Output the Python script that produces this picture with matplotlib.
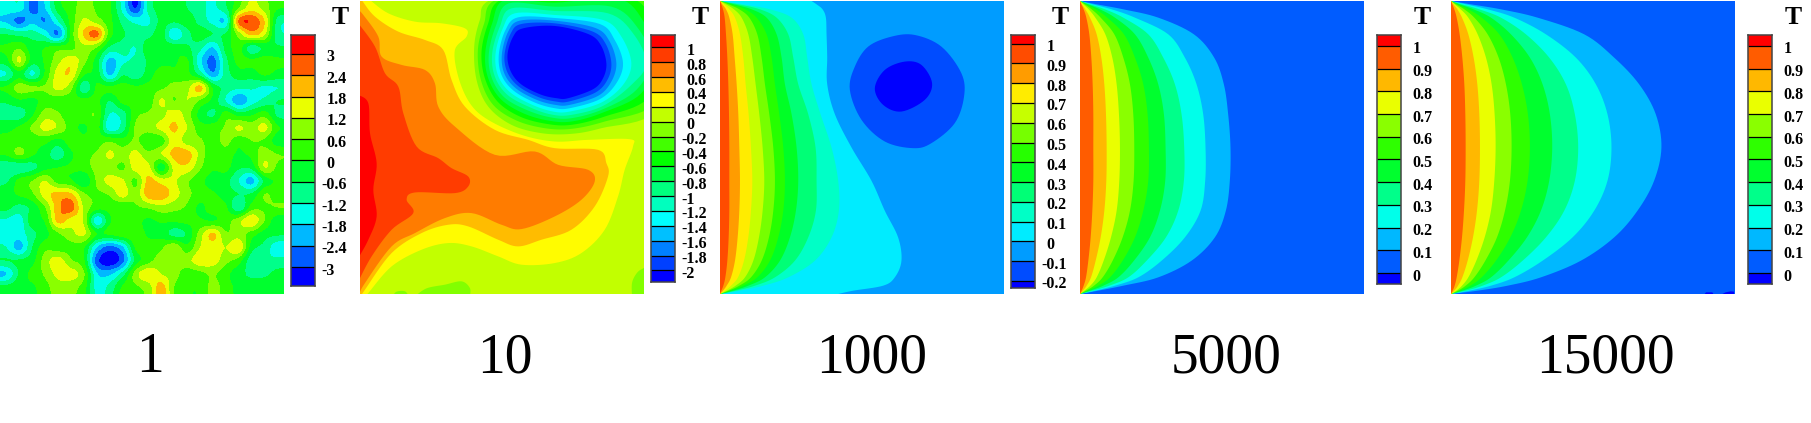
import numpy as np
import matplotlib
matplotlib.use("Agg")
import matplotlib.pyplot as plt
from matplotlib.colors import BoundaryNorm, LinearSegmentedColormap, ListedColormap

plt.rcParams["font.family"] = ["Liberation Serif", "DejaVu Serif"]

W, H = 1811, 423

titles = ["1", "10", "1000", "5000", "15000"]
title_x = [150, 505, 872, 1226, 1605]

levels_1 = [-3, -2.4, -1.8, -1.2, -0.6, 0, 0.6, 1.2, 1.8, 2.4, 3]
levels_2 = [-2, -1.8, -1.6, -1.4, -1.2, -1, -0.8, -0.6, -0.4, -0.2, 0, 0.2, 0.4, 0.6, 0.8, 1]
levels_3 = [-0.2, -0.1, 0, 0.1, 0.2, 0.3, 0.4, 0.5, 0.6, 0.7, 0.8, 0.9, 1]
levels_4 = [0, 0.1, 0.2, 0.3, 0.4, 0.5, 0.6, 0.7, 0.8, 0.9, 1]

# T, 22 x 22 cells, top row first
field_1 = [
    [-1.5, -1.4, -2.6, -1.8, -0.3, 0.3, 0.9, 0.5, 0.1, -1.4, -3, -1.0, -0.3, -0.3, -0.6, -1.0, -1.3, -0.7, 0.6, 1.5, 0.9, 0.1],
    [-1.9, -2.6, -2, -2.4, -1.2, 0.2, 1.3, 0.9, 0.2, -0.8, -1.4, -1.3, -0.4, -0.5, -0.3, -0.8, -1.4, -1.6, 2.5, 2.9, 1.8, -0.8],
    [-0.6, -0.8, -0.9, -1.4, -2.4, 0.2, 1.9, 2.6, 0.3, -0.5, -0.8, -0.8, -0.3, -1.7, -0.8, -0.3, -0.6, -0.5, 0.9, 2.0, 1.3, -0.9],
    [0.1, 0.5, -0.3, 0.0, 0.3, 0.4, 1.0, 0.6, -0.7, -0.9, -1.2, -0.2, -0.3, -0.2, -0.5, -1.0, -1.8, -0.4, 0.2, -0.9, -0.4, -0.5],
    [-0.2, 1.3, -0.3, 0.1, 1.0, 1.6, 0.8, -0.3, -2, -1.3, -1.1, -0.5, -0.2, -0.1, 0.1, -1.6, -2.6, -0.8, 0.2, 0.1, 0.3, 0.1],
    [-1.2, -0.2, -1.3, 0.1, 1.5, 1.7, 0.1, -0.2, -1.9, -0.7, -1, -0.3, 0.3, 0.2, 0.2, -0.8, -2.2, -0.9, -0.3, -0.3, 0.1, -0.2],
    [0.1, 0.9, 0.7, 0.7, 1.4, 0.8, -1.0, 0.1, 0.1, 0.3, 0.1, 0.2, 0.5, 0.8, 1.0, 2, -0.1, -0.8, -1.1, -1.1, -1.3, -1.2],
    [-0.5, -0.1, -0.2, 0.3, 0.3, 0.2, 0.2, 0.2, -0.6, 0.2, 0.1, 0.2, 1.3, 0.6, 1.2, 0.5, -0.2, -1.2, -2.2, -1.5, -1.0, -0.6],
    [-0.8, -0.9, -0.1, 0.9, 0.7, 0.1, 0.4, 0.5, -1.2, -0.9, 0.4, 0.7, 1, 1.5, 0.9, -0.2, -0.7, 0.3, -0.3, -0.1, 0.3, -0.7],
    [-0.2, 0.1, 0.7, 1.4, 1.1, 0.3, -0.1, 0.3, -1.6, -0.9, 0.7, 0.9, 1.4, 1.9, 1.2, 0.3, 0.3, 0.7, 1.3, 0.9, 1.4, 0.1],
    [0.2, 0.3, 0.2, 0.2, -0.2, 0.3, 0.2, 0.3, 0.5, 0.2, 0.7, 0.1, 0.3, 1.6, 0.9, 0.7, 0.3, 0.8, 0.2, 0.6, 0.5, -0.3],
    [0.1, 0.7, 0.1, -0.3, -0.9, -0.1, 0.4, 0.7, 1.3, 0.9, 1.4, 0.8, 1.2, 2.0, 2.1, 1, 0.1, 0.3, -0.1, 0.2, 0.9, 0.6],
    [-1.1, -1.1, -0.8, -0.2, 0, 0.1, 0.3, 0.8, 0.9, 0.5, 1.5, 1.4, -0.3, 1.4, 1.6, 0.7, 0.1, 0.2, -0.5, -0.4, 1.2, 0.5],
    [-0.7, 0.2, 0.6, 1.2, 0.3, 0.1, -0.5, 0.7, 1.4, 1.3, 0.5, 2.0, 1.5, 1.3, 0.7, 0.2, -0.3, -0.4, -1.2, -2.0, -0.4, 0.1],
    [-0.2, 0.1, 0.5, 1.5, 2.0, 1.9, 0.7, 0.5, 0.7, 1.5, 0.8, 2.2, 2.2, 1.5, 0.8, 0.3, 0.1, -0.3, -0.6, -0.5, 0.6, 0.3],
    [-0.4, -0.8, -0.4, 0.6, 2.2, 2.7, 1.1, 0.3, 0.2, 0.1, 0.5, 0.7, 1, 0.8, 0.5, -0.1, 0.3, 0.1, -1.1, 0.3, 0.5, 0.6],
    [-1.3, -1.5, -0.2, 0.1, 2, 1.5, 1.1, -1.6, -0.1, 0.2, 0.2, -0.1, 0.1, 0.1, 0.2, 0.1, 0, 0.3, 1.0, 1.7, 0.6, -0.4],
    [-1.4, -1.5, -0.8, -0.2, 0.5, 1.0, 1.3, 0, 0.1, 0.4, 0.4, -0.1, -0.2, -0.8, -0.5, 0.9, 1.9, 0.7, 0.9, 0.3, -0.3, -0.5],
    [-1.2, -2, -0.6, 0.4, 0.3, 0.4, 0.1, -1.8, -2.6, -1.9, 0.1, 0.3, 0.5, 1.1, 0.2, 1.2, 1.5, 1.2, 1.7, -0.3, -0.8, -1.6],
    [-0.6, -0.5, -0.2, 0.9, 1.5, 0.7, 0.1, -2.7, -3.4, -2.6, -0.4, 0.4, 0.9, 0.8, 1.0, 1.6, 1.5, 0.8, 0.3, -1, -1.1, -1],
    [-1.8, -0.5, 0.2, 0.7, 1.4, 1.5, 0.7, -1.7, -1.9, -0.9, 0.9, 1.7, 1.2, 0.9, 0.2, 0.4, 0.7, 0.2, -0.4, -0.7, -0.7, -0.4],
    [-0.4, -0.1, -0.1, 0.4, 0.9, 0.8, 0.3, -1.4, -1, 0.1, 0.5, 0.9, 2.1, 0.6, 0.1, 0.1, 0.8, 0.3, -0.2, -0.4, -0.3, -0.3],
]

# second panel: closed rings round the cold spot, (x, y) in reference units
rings_2 = {
    0: [(405, 0), (375, 60), (358, 140), (365, 240), (400, 320), (470, 375), (560, 400), (650, 402), (740, 385), (900, 335), (920, 150), (900, -40), (600, -60)],
    -0.2: [(420, 0), (388, 70), (369, 150), (378, 240), (415, 315), (485, 362), (570, 385), (650, 387), (750, 365), (900, 312), (930, 160), (905, 10), (860, -20), (600, -50)],
    -0.4: [(436, 0), (400, 70), (380, 155), (390, 235), (428, 305), (495, 350), (575, 372), (650, 375), (750, 350), (880, 295), (925, 160), (885, 45), (815, -10), (600, -35)],
    -0.6: [(450, 0), (412, 70), (391, 160), (400, 235), (438, 298), (505, 340), (580, 362), (650, 365), (745, 338), (860, 280), (905, 170), (870, 70), (790, -5), (600, 8)],
    -0.8: [(462, 10), (424, 75), (402, 160), (410, 232), (448, 292), (515, 330), (585, 352), (650, 355), (745, 328), (845, 270), (890, 180), (850, 85), (770, 20), (600, 20)],
    -1: [(470, 25), (435, 80), (412, 160), (420, 230), (458, 285), (525, 322), (590, 344), (650, 345), (745, 318), (830, 255), (875, 190), (835, 100), (760, 40), (600, 33)],
    -1.2: [(480, 40), (444, 85), (422, 162), (430, 228), (467, 278), (533, 315), (595, 335), (645, 335), (740, 308), (805, 255), (830, 190), (800, 110), (745, 60), (600, 45)],
    -1.4: [(490, 52), (452, 90), (432, 163), (440, 225), (476, 272), (540, 308), (600, 325), (645, 325), (735, 298), (785, 250), (805, 190), (780, 120), (735, 72), (600, 54)],
    -1.6: [(495, 62), (460, 95), (441, 164), (449, 222), (484, 266), (546, 300), (602, 315), (645, 315), (730, 288), (770, 245), (785, 190), (765, 125), (722, 84), (600, 62)],
    -1.8: [(500, 72), (468, 100), (449, 165), (458, 218), (492, 260), (552, 292), (604, 305), (642, 305), (722, 278), (758, 240), (770, 190), (752, 130), (712, 94), (600, 70)],
    -2: [(505, 85), (475, 110), (458, 165), (468, 215), (500, 254), (558, 284), (606, 295), (640, 295), (715, 268), (745, 235), (755, 190), (738, 135), (700, 102), (600, 78)],
}

# second panel: warm tongues, open lines that close along the left edge
warm_2 = {
    0.2: [(45, 0), (100, 40), (180, 65), (260, 70), (330, 85), (335, 110), (300, 150), (310, 230), (345, 310), (400, 360), (500, 405), (600, 425), (700, 420), (825, 418), (835, 440), (810, 510), (790, 590), (750, 690), (680, 760), (600, 790), (500, 795), (430, 770), (350, 740), (280, 730), (200, 750), (110, 800), (40, 880), (30, 890)],
    0.4: [(20, 0), (60, 50), (130, 95), (210, 120), (265, 150), (290, 240), (330, 320), (420, 390), (520, 420), (600, 445), (730, 450), (755, 490), (760, 530), (720, 620), (650, 690), (560, 720), (490, 740), (430, 720), (340, 680), (280, 675), (200, 700), (110, 760), (30, 870), (18, 890)],
    0.6: [(10, 30), (25, 45), (70, 110), (80, 170), (140, 195), (210, 210), (240, 250), (250, 320), (300, 380), (420, 465), (540, 455), (610, 495), (700, 510), (720, 545), (680, 600), (600, 650), (500, 688), (440, 675), (350, 640), (270, 655), (180, 700), (110, 740), (30, 850), (12, 885)],
    0.8: [(10, 70), (60, 140), (90, 220), (130, 260), (145, 340), (185, 440), (250, 475), (290, 505), (340, 530), (340, 560), (300, 580), (180, 578), (155, 600), (175, 640), (110, 690), (50, 770), (10, 845)],
    1: [(10, 285), (40, 310), (45, 400), (65, 490), (55, 570), (65, 650), (40, 720), (10, 775)],
}

# second panel: small patches below T = 0 along the bottom edge
patches_2 = [
    [(112, 890), (125, 876), (150, 875), (162, 890)],
    [(180, 890), (215, 866), (270, 855), (320, 845), (345, 865), (345, 890)],
    [(832, 890), (832, 850), (845, 822), (862, 808), (880, 808), (880, 890)],
]

# rows where the isolines of the last three panels were read
rows = [0, 10, 25, 50, 100, 170, 250, 340, 440, 540, 630, 710, 780, 830, 855, 870, 880]

iso_3 = {
    0: [275, 290, 308, 318, 320, 322, 322, 345, 395, 455, 495, 535, 545, 525, 490, 400, 355],
    0.1: [0, 70, 150, 215, 250, 262, 275, 302, 335, 355, 357, 335, 285, 205, 130, 60, 0],
    0.2: [0, 55, 120, 170, 205, 220, 235, 265, 287, 290, 288, 265, 225, 165, 105, 48, 0],
    0.3: [0, 42, 95, 140, 170, 185, 195, 215, 230, 235, 228, 210, 180, 135, 85, 40, 0],
    0.4: [0, 33, 75, 110, 140, 155, 165, 178, 190, 195, 190, 175, 150, 112, 70, 32, 0],
    0.5: [0, 25, 58, 88, 112, 125, 135, 148, 160, 165, 160, 147, 125, 93, 58, 26, 0],
    0.6: [0, 18, 42, 65, 85, 97, 107, 118, 128, 133, 128, 117, 100, 75, 47, 21, 0],
    0.7: [0, 12, 28, 45, 60, 70, 77, 86, 93, 97, 93, 85, 72, 54, 33, 15, 0],
    0.8: [0, 7, 18, 28, 38, 44, 50, 55, 58, 60, 58, 53, 45, 33, 20, 9, 0],
    0.9: [0, 4, 9, 14, 18, 22, 25, 27, 28, 28, 28, 26, 22, 16, 10, 4, 0],
}
blob_3 = {
    -0.1: [(390, 267), (405, 197), (445, 137), (515, 107), (585, 102), (665, 137), (725, 217), (733, 287), (705, 367), (635, 427), (580, 442), (495, 422), (425, 357)],
    -0.2: [(465, 262), (495, 207), (555, 182), (605, 192), (637, 247), (615, 297), (545, 332), (490, 312)],
}

iso_4 = {
    0.1: [0, 50, 130, 235, 342, 403, 432, 445, 452, 450, 438, 405, 335, 235, 130, 55, 0],
    0.2: [0, 38, 95, 165, 265, 315, 350, 370, 377, 376, 362, 315, 245, 175, 105, 45, 0],
    0.3: [0, 30, 75, 130, 205, 250, 285, 305, 313, 312, 295, 258, 200, 145, 88, 38, 0],
    0.4: [0, 24, 60, 105, 165, 205, 235, 252, 257, 256, 240, 210, 162, 115, 70, 30, 0],
    0.5: [0, 19, 47, 82, 132, 165, 190, 203, 207, 205, 190, 165, 128, 90, 55, 24, 0],
    0.6: [0, 14, 35, 62, 103, 130, 150, 160, 163, 161, 150, 128, 98, 68, 42, 18, 0],
    0.7: [0, 10, 26, 46, 76, 97, 110, 117, 120, 118, 110, 93, 71, 50, 31, 13, 0],
    0.8: [0, 6, 16, 30, 50, 64, 73, 78, 80, 79, 73, 62, 47, 33, 20, 9, 0],
    0.9: [0, 4, 11, 19, 28, 34, 38, 40, 40, 40, 37, 32, 25, 18, 11, 5, 0],
}

iso_5 = {
    0.1: [0, 60, 150, 260, 400, 490, 565, 615, 632, 610, 560, 490, 390, 270, 170, 80, 0],
    0.2: [0, 45, 110, 190, 285, 375, 435, 470, 482, 470, 430, 365, 275, 190, 120, 55, 0],
    0.3: [0, 33, 85, 150, 225, 295, 345, 372, 382, 372, 340, 285, 215, 150, 95, 45, 0],
    0.4: [0, 26, 68, 120, 180, 237, 275, 297, 304, 295, 270, 228, 172, 120, 75, 35, 0],
    0.5: [0, 20, 52, 92, 145, 185, 213, 231, 237, 230, 210, 178, 135, 92, 58, 27, 0],
    0.6: [0, 15, 40, 70, 110, 143, 165, 178, 182, 177, 162, 138, 103, 70, 44, 21, 0],
    0.7: [0, 11, 29, 52, 80, 105, 122, 131, 134, 130, 120, 101, 76, 52, 33, 16, 0],
    0.8: [0, 7, 19, 33, 52, 68, 79, 85, 87, 85, 78, 66, 50, 34, 21, 10, 0],
    0.9: [0, 4, 10, 17, 26, 34, 40, 43, 44, 43, 39, 33, 25, 17, 11, 5, 0],
}
specks_5 = [
    [(762, 880), (766, 875), (785, 875), (788, 880)],
    [(815, 880), (825, 875), (840, 872), (850, 873), (850, 880)],
]

rainbow = LinearSegmentedColormap.from_list(
    "tec", ["#0000ff", "#00ffff", "#00ff00", "#ffff00", "#ff0000"]
)


def band_colors(n):
    return [rainbow(i / (n - 1)) for i in range(n)]


def spline(pts, closed=False, steps=8):
    # catmull-rom through the read points
    p = np.array(pts, dtype=float)
    if closed:
        p = np.vstack([p[-1], p, p[0], p[1]])
    else:
        p = np.vstack([p[0], p, p[-1]])
    t = np.linspace(0, 1, steps, endpoint=False)[:, None]
    out = []
    for a, b, c, d in zip(p[:-3], p[1:-2], p[2:-1], p[3:]):
        out.append(0.5 * (2 * b + (c - a) * t + (2 * a - 5 * b + 4 * c - d) * t**2
                          + (3 * b - a - 3 * c + d) * t**3))
    out.append(p[-2][None])
    return np.vstack(out)


def px_axes(left, top, right, bottom):
    return fig.add_axes([left / W, 1 - bottom / H, (right - left) / W, (bottom - top) / H])


def panel(left, xlim=(0, 853), ylim=(880, 0), bg="white"):
    ax = px_axes(left, 1, left + 284, 294)
    ax.set_xlim(*xlim)
    ax.set_ylim(*ylim)
    ax.set_facecolor(bg)
    ax.set_xticks([])
    ax.set_yticks([])
    for s in ax.spines.values():
        s.set_visible(False)
    return ax


def fill_isolines(ax, iso, levels, colors):
    for lev, xs in iso.items():
        pts = spline(list(zip(xs, rows)))
        pts = np.vstack([pts, [-20, 890], [-20, -10]])
        ax.fill(pts[:, 0], pts[:, 1], color=colors[levels.index(lev) + 1], lw=0)


def colorbar(left, top, bottom, levels, low, high, colors, t_x):
    cax = px_axes(left, top, left + 24, bottom)
    bounds = [low] + list(levels) + [high]
    cax.pcolormesh([0, 1], bounds, np.arange(len(colors))[:, None],
                   cmap=ListedColormap(colors), vmin=0, vmax=len(colors) - 1)
    cax.hlines(levels, 0, 1, color="black", lw=0.9)
    cax.set_xlim(0, 1)
    cax.set_ylim(low, high)
    cax.set_xticks([])
    cax.set_yticks([])
    for s in cax.spines.values():
        s.set_color("#444444")
        s.set_linewidth(1.1)
    for lev in levels:
        label = f"{lev:g}"
        dx = 11.5 - (5 if lev < 0 else 0)
        cax.annotate(label, (1, lev), xytext=(dx, -3.5), textcoords="offset pixels",
                     ha="left", va="center", fontsize=11.5, fontweight="bold")
    fig.text(t_x / W, 1 - 17 / H, "T", ha="center", va="center", fontsize=18.5, fontweight="bold")


fig = plt.figure(figsize=(W / 100, H / 100), dpi=100)

# panel 1
colors_1 = band_colors(len(levels_1) + 1)
ax = panel(0, (0, 852), (883, 0))
ax.imshow(np.array(field_1), extent=(0, 852, 883, 0), aspect="auto",
          cmap=ListedColormap(colors_1), interpolation="catrom", interpolation_stage="data",
          norm=BoundaryNorm(levels_1, len(colors_1), extend="both"))
colorbar(291, 35, 286, levels_1, -3.53, 3.53, colors_1, 340)

# panel 2
colors_2 = band_colors(len(levels_2) + 1)
ax = panel(360, (15, 868), (883, 3), colors_2[levels_2.index(0.2)])
for pts in patches_2:
    p = spline(pts)
    ax.fill(p[:, 0], p[:, 1], color=colors_2[levels_2.index(0)], lw=0)
for lev, pts in warm_2.items():
    p = np.vstack([spline(pts), [-20, 890], [-20, -10]])
    ax.fill(p[:, 0], p[:, 1], color=colors_2[levels_2.index(lev) + 1], lw=0)
for lev, pts in rings_2.items():
    p = spline(pts, closed=True)
    ax.fill(p[:, 0], p[:, 1], color=colors_2[levels_2.index(lev)], lw=0)
colorbar(651, 35, 282, levels_2, -2.155, 1.165, colors_2, 700)

# panel 3
colors_3 = band_colors(len(levels_3) + 1)
ax = panel(720, bg=colors_3[2])
fill_isolines(ax, iso_3, levels_3, colors_3)
for lev, pts in blob_3.items():
    p = spline(pts, closed=True)
    ax.fill(p[:, 0], p[:, 1], color=colors_3[levels_3.index(lev)], lw=0)
colorbar(1011, 35, 288, levels_3, -0.2355, 1.0435, colors_3, 1060)

# panel 4
colors_4 = band_colors(len(levels_4) + 1)
ax = panel(1080, bg=colors_4[1])
fill_isolines(ax, iso_4, levels_4, colors_4)
colorbar(1377, 35, 284, levels_4, -0.048, 1.048, colors_4, 1422)

# panel 5
ax = panel(1451, bg=colors_4[1])
fill_isolines(ax, iso_5, levels_4, colors_4)
for pts in specks_5:
    p = np.array(pts)
    ax.fill(p[:, 0], p[:, 1], color=colors_4[0], lw=0)
colorbar(1748, 35, 284, levels_4, -0.048, 1.048, colors_4, 1793)

for name, x in zip(titles, title_x):
    fig.text(x / W, 1 - 358 / H, name, ha="center", va="center", fontsize=40)

fig.savefig("out.png", dpi=100)
